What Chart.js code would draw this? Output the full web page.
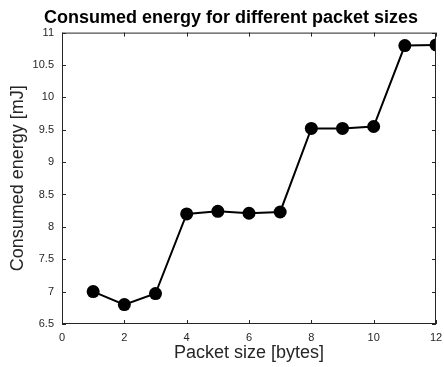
<!DOCTYPE html>
<html>
<head>
<meta charset="utf-8">
<script src="https://cdn.jsdelivr.net/npm/chart.js@4.4.1/dist/chart.umd.min.js"></script>
<style>
  html, body { margin: 0; padding: 0; background: #fff; }
  #wrap { width: 444px; height: 367px; }
</style>
</head>
<body>
<div id="wrap"><canvas id="energyChart"></canvas></div>
<script>
const packetSizes = [1, 2, 3, 4, 5, 6, 7, 8, 9, 10, 11, 12];
const energyMj = [7.0, 6.8, 6.97, 8.2, 8.24, 8.21, 8.23, 9.52, 9.52, 9.55, 10.8, 10.81];
const xTicks = [0, 2, 4, 6, 8, 10, 12];
const yTicks = [6.5, 7, 7.5, 8, 8.5, 9, 9.5, 10, 10.5, 11];

const axisColor = "#262626";
const fontFamily = "'Liberation Sans', Arial, Helvetica, sans-serif";

// box around the plot area with inward tick marks on all four sides
const boxTicks = {
  id: "boxTicks",
  afterDraw(chart) {
    const { ctx, chartArea: a, scales } = chart;
    const len = 4;
    ctx.save();
    ctx.strokeStyle = axisColor;
    ctx.lineWidth = 1;
    ctx.strokeRect(a.left + 0.5, a.top + 0.5, a.right - a.left - 1, a.bottom - a.top - 1);
    ctx.beginPath();
    xTicks.forEach((v) => {
      const px = Math.round(scales.x.getPixelForValue(v)) + 0.5;
      ctx.moveTo(px, a.bottom);
      ctx.lineTo(px, a.bottom - len);
      ctx.moveTo(px, a.top);
      ctx.lineTo(px, a.top + len);
    });
    yTicks.forEach((v) => {
      const py = Math.round(scales.y.getPixelForValue(v)) + 0.5;
      ctx.moveTo(a.left, py);
      ctx.lineTo(a.left + len, py);
      ctx.moveTo(a.right, py);
      ctx.lineTo(a.right - len, py);
    });
    ctx.stroke();
    ctx.restore();
  },
};

new Chart(document.getElementById("energyChart"), {
  type: "line",
  data: {
    datasets: [
      {
        data: packetSizes.map((x, i) => ({ x: x, y: energyMj[i] })),
        borderColor: "#000",
        backgroundColor: "#000",
        borderWidth: 2,
        pointRadius: 6.5,
        pointHoverRadius: 6.5,
        pointBackgroundColor: "#000",
        pointBorderWidth: 0,
        tension: 0,
      },
    ],
  },
  options: {
    responsive: true,
    maintainAspectRatio: false,
    animation: false,
    layout: { padding: { left: 26, right: 8, top: 0, bottom: 0 } },
    plugins: {
      legend: { display: false },
      tooltip: { enabled: false },
      title: {
        display: true,
        text: "Consumed energy for different packet sizes",
        color: "#000",
        font: { family: fontFamily, size: 18, weight: "bold" },
        padding: { top: 7, bottom: 4 },
      },
    },
    scales: {
      x: {
        type: "linear",
        min: 0,
        max: 12,
        afterBuildTicks: (s) => { s.ticks = xTicks.map((v) => ({ value: v })); },
        afterFit: (s) => { s.height = 43; s.paddingLeft = 0; s.paddingRight = 0; },
        grid: { display: false, drawTicks: false },
        border: { display: false },
        ticks: {
          color: axisColor,
          padding: 7,
          font: { family: fontFamily, size: 11 },
          maxRotation: 0,
        },
        title: {
          display: true,
          text: "Packet size [bytes]",
          color: axisColor,
          font: { family: fontFamily, size: 18 },
          padding: { top: 0, bottom: 3 },
        },
      },
      y: {
        type: "linear",
        min: 6.5,
        max: 11,
        afterBuildTicks: (s) => { s.ticks = yTicks.map((v) => ({ value: v })); },
        afterFit: (s) => { s.width = 36; s.paddingTop = 0; s.paddingBottom = 0; },
        grid: { display: false, drawTicks: false },
        border: { display: false },
        ticks: {
          color: axisColor,
          padding: 8,
          font: { family: fontFamily, size: 11 },
          callback: (v) => String(v),
        },
        title: {
          display: true,
          text: "Consumed energy [mJ]",
          color: axisColor,
          font: { family: fontFamily, size: 18 },
          padding: { top: -19, bottom: 0 },
        },
      },
    },
  },
  plugins: [boxTicks],
});
</script>
</body>
</html>
